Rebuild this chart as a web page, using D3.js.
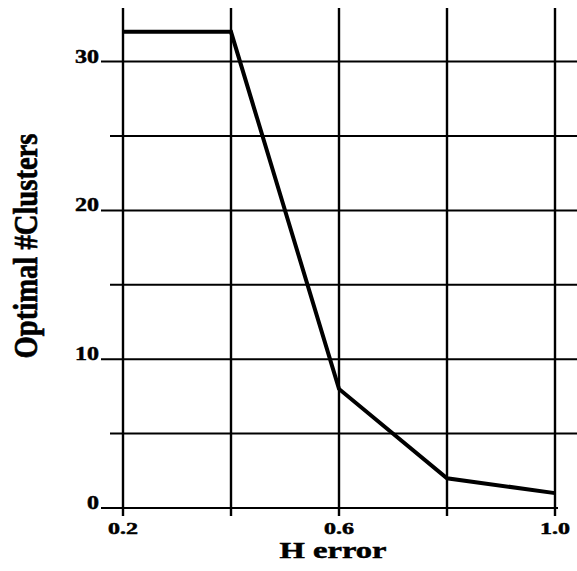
<!DOCTYPE html>
<html>
<head>
<meta charset="utf-8">
<script src="https://cdn.jsdelivr.net/npm/d3@7"></script>
<style>
  body { margin: 0; background: #fff; }
  text { font-family: "Liberation Serif", "Times New Roman", Times, serif; font-weight: 700; stroke: #000; stroke-width: 0.5px; }
</style>
</head>
<body>
<script>
// data
const hError = [0.2, 0.4, 0.6, 0.8, 1.0];
const clusters = [32, 32, 8, 2, 1];
const xTicks = [0.2, 0.4, 0.6, 0.8, 1.0];
const xLabels = ["0.2", "", "0.6", "", "1.0"];
const yTicks = [0, 5, 10, 15, 20, 25, 30];
const yLabels = ["0", "", "10", "", "20", "", "30"];

const width = 577, height = 571;

const x = d3.scaleLinear().domain([0.2, 1.0]).range([123, 555]);
const y = d3.scaleLinear().domain([0, 33.6]).range([508, 8]);

const svg = d3.select("body").append("svg")
    .attr("width", width)
    .attr("height", height);

// the original text is stretched sideways; scale each label to the width it has there
function fit(sel, tx, ty, w) {
  sel.each(function(d, i) {
    const len = this.getComputedTextLength();
    const sx = len ? w(d, i) / len : 1;
    d3.select(this).attr("transform", `translate(${tx(d, i)},${ty(d, i)}) scale(${sx},1)`);
  });
}

// horizontal grid
svg.append("g")
  .selectAll("line")
  .data(yTicks)
  .join("line")
    .attr("x1", (d, i) => yLabels[i] ? 101 : 110)
    .attr("x2", d => d === 0 ? 558 : 577)
    .attr("y1", d => y(d))
    .attr("y2", d => y(d))
    .attr("stroke", "#000")
    .attr("stroke-width", 2);

// vertical grid, running a bit under the axis as ticks
svg.append("g")
  .selectAll("line")
  .data(xTicks)
  .join("line")
    .attr("x1", d => x(d))
    .attr("x2", d => x(d))
    .attr("y1", y.range()[1])
    .attr("y2", y(0) + 8)
    .attr("stroke", "#000")
    .attr("stroke-width", 2.4);

// y tick labels
svg.append("g")
  .selectAll("text")
  .data(yTicks)
  .join("text")
    .attr("text-anchor", "end")
    .attr("font-size", 19)
    .text((d, i) => yLabels[i])
    .call(fit, () => 99, d => y(d) + 1, (d, i) => yLabels[i].length * 12);

// x tick labels
svg.append("g")
  .selectAll("text")
  .data(xTicks)
  .join("text")
    .attr("text-anchor", "middle")
    .attr("font-size", 17)
    .text((d, i) => xLabels[i])
    .call(fit, d => x(d), () => 534, () => 30);

// the line
const line = d3.line()
    .x((d, i) => x(hError[i]))
    .y(d => y(d));

svg.append("path")
    .datum(clusters)
    .attr("fill", "none")
    .attr("stroke", "#000")
    .attr("stroke-width", 4)
    .attr("stroke-linejoin", "miter")
    .attr("d", line);

// axis titles
svg.append("text")
    .attr("text-anchor", "middle")
    .attr("font-size", 23)
    .text("H error")
    .call(fit, () => 333, () => 558, () => 107);

const yTitle = svg.append("text")
    .attr("text-anchor", "middle")
    .attr("font-size", 24)
    .text("Optimal #Clusters");
const yLen = yTitle.node().getComputedTextLength();
yTitle.attr("transform", `translate(37,246) scale(1.37,${225 / yLen}) rotate(-90)`);
</script>
</body>
</html>
